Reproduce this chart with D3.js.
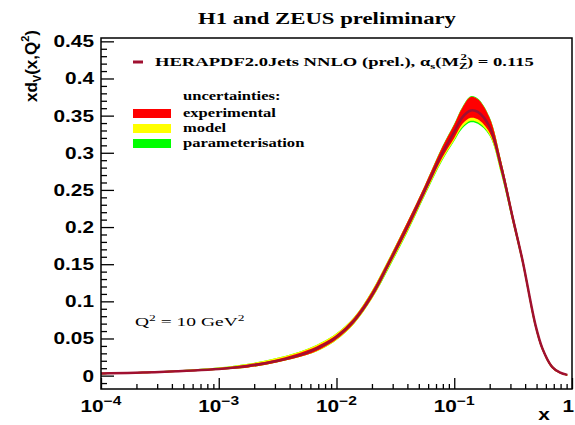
<!DOCTYPE html>
<html><head><meta charset="utf-8">
<script src="https://cdn.jsdelivr.net/npm/d3@7"></script>
<style>body{margin:0;background:#fff}svg{display:block}</style>
</head><body>
<script>
// ---- data ----
const logX    = [-4, -3.5, -3, -2.75, -2.5, -2.25, -2.1, -2, -1.85, -1.7, -1.55, -1.4, -1.25, -1.1, -1, -0.93, -0.86, -0.8, -0.7, -0.6, -0.5, -0.42, -0.31, -0.25, -0.17, -0.1, -0.04];
const central = [0.003,0.005,0.009,0.013,0.020,0.031,0.042,0.052,0.074,0.108,0.153,0.200,0.250,0.300,0.328,0.348,0.357,0.355,0.335,0.28,0.21,0.155,0.068,0.036,0.012,0.004,0.001];
const expUp   = [0.001,0.001,0.001,0.002,0.002,0.003,0.003,0.003,0.004,0.005,0.005,0.006,0.006,0.008,0.010,0.013,0.018,0.017,0.012,0.008,0.006,0.005,0.004,0.003,0.002,0.001,0.001];
const expDn   = [0.001,0.001,0.001,0.002,0.002,0.003,0.003,0.003,0.003,0.004,0.004,0.005,0.005,0.006,0.008,0.009,0.010,0.010,0.008,0.007,0.006,0.005,0.004,0.003,0.002,0.001,0.001];
const modUp   = [0.000,0.000,0.001,0.001,0.002,0.002,0.002,0.002,0.001,0.001,0.001,0.000,0.000,0.000,0.000,0.000,0.000,0.000,0.000,0.000,0.000,0.000,0.000,0.000,0.000,0.000,0.000];
const modDn   = [0.000,0.000,0.000,0.000,0.000,0.000,0.001,0.001,0.001,0.001,0.002,0.002,0.002,0.003,0.003,0.004,0.004,0.004,0.003,0.002,0.001,0.001,0.001,0.000,0.000,0.000,0.000];
const parUp   = [0.000,0.000,0.000,0.000,0.000,0.000,0.000,0.000,0.000,0.000,0.000,0.000,0.000,0.001,0.001,0.001,0.001,0.001,0.001,0.000,0.000,0.000,0.000,0.000,0.000,0.000,0.000];
const parDn   = [0.000,0.000,0.000,0.000,0.000,0.000,0.000,0.000,0.000,0.000,0.001,0.001,0.001,0.001,0.001,0.002,0.002,0.002,0.001,0.001,0.000,0.000,0.000,0.000,0.000,0.000,0.000];
const yTicks  = [0, 0.05, 0.1, 0.15, 0.2, 0.25, 0.3, 0.35, 0.4, 0.45];
const xTicks  = [1e-4, 1e-3, 1e-2, 1e-1, 1];
const xTickExp = ["-4", "-3", "-2", "-1", ""];
const legendItems = ["experimental", "model", "parameterisation"];
const legendColors = ["#ff0000", "#ffff00", "#00ff00"];

// ---- setup ----
const W = 575, H = 425;
const L = 101, R = 572, T = 38, B = 389;
const svg = d3.select("body").append("svg").attr("width", W).attr("height", H);
const x = d3.scaleLog().domain([1e-4, 1]).range([L, R]);
const y = d3.scaleLinear().domain([-0.018, 0.4545]).range([B, T]);
const sans = "Liberation Sans, Arial, sans-serif";
const serif = "Liberation Serif, Times New Roman, serif";

// stretched text helper (reference glyphs are horizontally wide)
function stext(parent, px, py, sx, anchor) {
  return parent.append("g").attr("transform", `translate(${px},${py}) scale(${sx},1)`)
    .append("text").attr("x", 0).attr("y", 0).attr("text-anchor", anchor || "start").attr("fill", "#000");
}

const pts = logX.map((lx, i) => ({
  x: Math.pow(10, lx), c: central[i],
  eU: central[i] + expUp[i], eD: central[i] - expDn[i],
  mU: central[i] + expUp[i] + modUp[i], mD: central[i] - expDn[i] - modDn[i],
  pU: central[i] + expUp[i] + modUp[i] + parUp[i], pD: central[i] - expDn[i] - modDn[i] - parDn[i]
}));
const curve = d3.curveCatmullRom.alpha(0.5);
const area = (hi, lo) => d3.area().x(d => x(d.x)).y0(d => y(d[lo])).y1(d => y(d[hi])).curve(curve);

const g = svg.append("g");
g.append("path").datum(pts).attr("d", area("pU", "pD")).attr("fill", "#00ff00");
g.append("path").datum(pts).attr("d", area("mU", "mD")).attr("fill", "#ffff00");
g.append("path").datum(pts).attr("d", area("eU", "eD")).attr("fill", "#ff0000");
g.append("path").datum(pts).attr("d", d3.line().x(d => x(d.x)).y(d => y(d.c)).curve(curve))
  .attr("fill", "none").attr("stroke", "#a01030").attr("stroke-width", 2.5);

// ---- frame ----
svg.append("rect").attr("x", L).attr("y", T).attr("width", R - L).attr("height", B - T)
  .attr("fill", "none").attr("stroke", "#000").attr("stroke-width", 1.5);

// y axis (ticks inward)
svg.append("g").attr("transform", `translate(${L},0)`)
  .call(d3.axisRight(y).tickValues(yTicks).tickSize(13).tickFormat(""))
  .select(".domain").remove();
const yMinor = d3.range(-0.01, 0.4501, 0.01).filter(v => Math.abs(Math.round(v * 100) % 5) !== 0);
svg.append("g").attr("transform", `translate(${L},0)`)
  .call(d3.axisRight(y).tickValues(yMinor).tickSize(6).tickFormat(""))
  .select(".domain").remove();

// x axis (ticks upward)
svg.append("g").attr("transform", `translate(0,${B})`)
  .call(d3.axisTop(x).tickValues(xTicks).tickSize(11).tickFormat(""))
  .select(".domain").remove();
const xMinorVals = [];
for (let e = -4; e < 0; e++) for (let m = 2; m <= 9; m++) xMinorVals.push(m * Math.pow(10, e));
svg.append("g").attr("transform", `translate(0,${B})`)
  .call(d3.axisTop(x).tickValues(xMinorVals).tickSize(5).tickFormat(""))
  .select(".domain").remove();
svg.selectAll(".tick line").attr("stroke", "#000").attr("stroke-width", 1.3);

// y tick labels
yTicks.forEach(v => {
  stext(svg, L - 7, y(v) + 6, 1.3, "end")
    .attr("font-family", sans).attr("font-weight", "bold").attr("font-size", 16)
    .text(v === 0 ? "0" : String(v));
});

// x tick labels
xTicks.forEach((v, i) => {
  const last = xTickExp[i] === "";
  const t = stext(svg, last ? 574 : x(v), 412, 1.3, last ? "end" : "middle")
    .attr("font-family", sans).attr("font-weight", "bold").attr("font-size", 16);
  if (last) { t.text("1"); return; }
  t.append("tspan").text("10");
  t.append("tspan").attr("dy", -7).attr("font-size", 12).text("\u2212" + xTickExp[i].slice(1));
});
stext(svg, 544, 420, 1.3, "middle").attr("font-family", sans).attr("font-weight", "bold")
  .attr("font-size", 16).text("x");

// y label
const yl = svg.append("text").attr("transform", "translate(37,102) rotate(-90)")
  .attr("font-family", sans).attr("font-weight", "bold").attr("font-size", 17).attr("fill", "#000");
yl.append("tspan").text("xd");
yl.append("tspan").attr("dy", 4).attr("font-size", 11).text("V");
yl.append("tspan").attr("dy", -4).text("(x,Q");
yl.append("tspan").attr("dy", -8).attr("font-size", 11).text("2");
yl.append("tspan").attr("dy", 8).text(")");

// title
stext(svg, 327, 24, 1.3, "middle").attr("font-family", serif).attr("font-weight", "bold")
  .attr("font-size", 17.5).text("H1 and ZEUS preliminary");

// legend line
svg.append("line").attr("x1", 133).attr("x2", 143).attr("y1", 62).attr("y2", 62)
  .attr("stroke", "#a01030").attr("stroke-width", 3);
const lt = stext(svg, 155, 66, 1.43, "start").attr("font-family", serif)
  .attr("font-weight", "bold").attr("font-size", 13);
lt.append("tspan").text("HERAPDF2.0Jets NNLO (prel.), \u03b1");
lt.append("tspan").attr("dy", 3).attr("font-size", 9).text("s");
lt.append("tspan").attr("dy", -3).text("(M");
lt.append("tspan").attr("dy", 3).attr("font-size", 9).text("Z");
lt.append("tspan").attr("dy", -9).attr("dx", -5).attr("font-size", 9).text("2");
lt.append("tspan").attr("dy", 6).text(") = 0.115");

// uncertainties legend
stext(svg, 183, 100, 1.38, "start").attr("font-family", serif)
  .attr("font-weight", "bold").attr("font-size", 12).text("uncertainties:");
legendItems.forEach((name, i) => {
  svg.append("rect").attr("x", 133).attr("y", 109 + i * 15).attr("width", 38).attr("height", 9)
    .attr("fill", legendColors[i]);
  stext(svg, 183, 117 + i * 15, 1.38, "start").attr("font-family", serif)
    .attr("font-weight", "bold").attr("font-size", 12).text(name);
});

// Q2 annotation
const q = stext(svg, 135, 326, 1.5, "start").attr("font-family", serif).attr("font-size", 13);
q.append("tspan").text("Q");
q.append("tspan").attr("dy", -5).attr("font-size", 9).text("2");
q.append("tspan").attr("dy", 5).text(" = 10 GeV");
q.append("tspan").attr("dy", -5).attr("font-size", 9).text("2");
</script>
</body></html>
